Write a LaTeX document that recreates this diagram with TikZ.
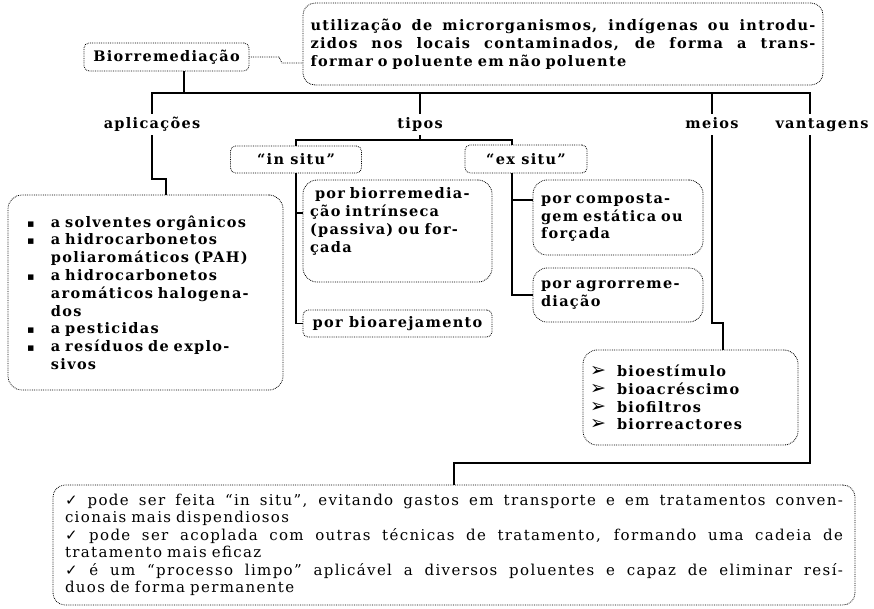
\documentclass[tikz,border=0pt]{standalone}
\usepackage{fontspec}
\setmainfont{DejaVu Serif}[LetterSpace=9]
\newfontfamily\symf{DejaVu Sans}
\tolerance=9999
\tikzset{bx/.style={draw,line width=.8pt,dash pattern=on .8pt off 1pt,rounded corners=5pt,inner sep=4pt,font=\fontsize{14.5}{17.8}\selectfont\bfseries}}
\tikzset{bb/.style={bx,rounded corners=14pt,align=left}}
\tikzset{lbl/.style={font=\fontsize{14.5}{17.8}\selectfont\bfseries,anchor=base,inner sep=3pt,text height=11pt,text depth=4pt}}
\tikzset{stem/.style={line width=1.8pt}}
\tikzset{dl/.style={line width=.8pt,dash pattern=on .8pt off 1pt}}
\newcommand{\sq}[1]{\mbox{\makebox[35pt][l]{\hspace*{11pt}{\symf\fontsize{11}{11}\selectfont ▪}}#1}}
\newcommand{\nsq}[1]{\mbox{\hspace*{35pt}#1}}
\newcommand{\pnt}[1]{\mbox{\makebox[27pt][l]{\symf\bfseries\fontsize{19}{15}\selectfont ➢}#1}}
\newcommand{\jl}[2]{\makebox[#1][s]{\spaceskip=0pt\xspaceskip=0pt #2}}
\newcommand{\ok}{{\symf\fontsize{15}{13}\selectfont ✓}}

\begin{document}
\begin{tikzpicture}[x=1pt,y=-1pt]
        \useasboundingbox (0,0) rectangle (874,608);
        \node[bx,minimum width=165pt,minimum height=28pt] (bio) at (166.5,57) {Biorremediação};
        \node[bx,rounded corners=12pt,text width=505pt,inner xsep=7.5pt,minimum height=82pt,align=left] (def) at (563,44)
          {\jl{505pt}{utilização de microrganismos, indígenas ou introdu-}\\
           \jl{505pt}{zidos nos locais contaminados, de forma a trans-}\\
           formar o poluente em não poluente};
        \coordinate (dj) at (279,57);
        \coordinate (dk) at (282,63);
        \draw[dl] (bio.east) -- (dj) -- (dk) -- (dk -| def.west);
        \node[lbl] (apl) at (152,128) {aplicações};
        \node[lbl] (tip) at (420,128) {tipos};
        \node[lbl] (mei) at (712,128) {meios};
        \node[lbl] (van) at (822,128) {vantagens};
        \coordinate (hub) at (184,93);
        \coordinate (vt) at (810,93);
        \draw[stem] (bio.south -| hub) -- (hub);
        \draw[stem] (apl.north) -- (apl.north |- hub) -- (vt) -- (vt |- van.north);
        \draw[stem] (tip.north) -- (tip.north |- hub);
        \draw[stem] (mei.north) -- (mei.north |- hub);
        \node[bx,minimum width=131pt,minimum height=27pt] (ins) at (296,159.5) {“in situ”};
        \node[bx,minimum width=122pt,minimum height=28pt] (exs) at (526,159) {“ex situ”};
        \coordinate (tL) at (296,140);
        \coordinate (tR) at (512,140);
        \draw[stem] (tip.south) -- (tip.south |- tL);
        \draw[stem] (ins.north) -- (tL) -- (tR) -- (tR |- exs.north);
        \node[bb,text width=175pt,inner xsep=7pt,minimum height=102pt] (pbi) at (397.5,231)
          {\hspace*{5pt}por biorremedia-\\ção intrínseca\\(passiva) ou for-\\çada\rule[-22pt]{0pt}{0pt}};
        \node[bx,minimum width=189pt,minimum height=27pt] (pba) at (397.5,323.5) {por bioarejamento};
        \coordinate (b1) at (296,213);
        \draw[stem] (ins.south) |- (pba.west);
        \draw[stem] (b1) -- (b1 -| pbi.west);
        \node[bb,text width=154pt,inner xsep=8pt,minimum height=75pt] (com) at (618,217.5)
          {por composta-\\gem estática ou\\forçada};
        \node[bb,text width=154pt,inner xsep=8pt,minimum height=54pt] (agr) at (618,295)
          {por agrorreme-\\diação};
        \coordinate (b2) at (512,200);
        \draw[stem] (exs.south -| tR) |- (agr.west);
        \draw[stem] (b2) -- (b2 -| com.west);
        \node[bb,text width=201pt,inner xsep=7pt,minimum height=95pt] (mbx) at (690.5,397.5)
          {\pnt{bioestímulo}\\\pnt{bioacréscimo}\\\pnt{biofiltros}\\\pnt{biorreactores}};
        \coordinate (mk) at (723,323);
        \draw[stem] (mei.south) |- (mk) -- (mk |- mbx.north);
        \node[bb,text width=259pt,inner xsep=8pt,minimum height=195pt] (abx) at (145.5,292.5)
          {\sq{a solventes orgânicos}\\\sq{a hidrocarbonetos}\\\nsq{poliaromáticos (PAH)}\\
           \sq{a hidrocarbonetos}\\\nsq{aromáticos halogena-}\\\nsq{dos}\\
           \sq{a pesticidas}\\\sq{a resíduos de  explo-}\\\nsq{sivos}};
        \coordinate (ak) at (166,179);
        \draw[stem] (apl.south) |- (ak) -- (ak |- abx.north);
        \node[bx,rounded corners=12pt,font=\fontsize{15}{17.5}\selectfont,text width=778pt,inner xsep=12pt,minimum height=120pt,align=left] (vbx) at (454,545)
          {\jl{778pt}{\ok{} pode ser feita “in situ”, evitando gastos em transporte e em tratamentos conven-}\\
           cionais  mais dispendiosos\\
           \jl{778pt}{\ok{} pode ser acoplada com outras técnicas de tratamento, formando uma cadeia de}\\
           tratamento mais eficaz\\
           \jl{778pt}{\ok{} é um “processo limpo” aplicável a diversos poluentes e capaz de eliminar resí-}\\
           duos de forma permanente};
        \coordinate (vk) at (454,463);
        \draw[stem] (van.south -| vt) |- (vk) -- (vk |- vbx.north);
      \end{tikzpicture}
\end{document}
